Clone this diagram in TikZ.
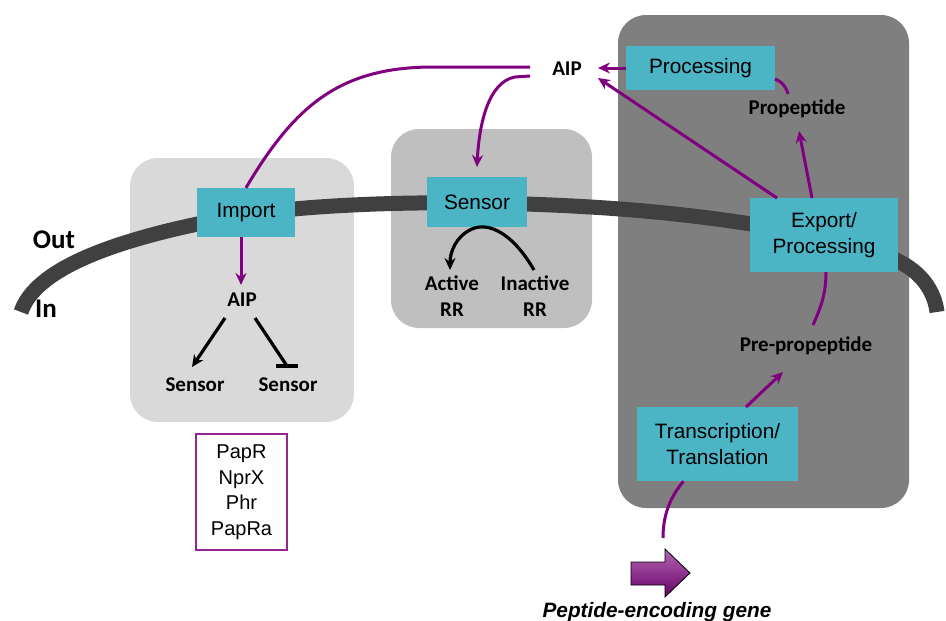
\documentclass[tikz,border=0pt]{standalone}
\usepackage{fontspec}
\setmainfont{Liberation Sans}
\newfontfamily\calfont{Carlito}
\usetikzlibrary{arrows.meta}
\definecolor{tealbox}{HTML}{4BB5C6}
\definecolor{purp}{HTML}{800080}
\definecolor{lightg}{HTML}{D9D9D9}
\definecolor{midg}{HTML}{BFBFBF}
\definecolor{darkg}{HTML}{7F7F7F}
\definecolor{memb}{HTML}{404040}
\tikzset{
  proc/.style={fill=tealbox, text=black, font=\fontsize{20.8}{26}\selectfont, align=center, inner sep=0pt},
  lbl/.style={font=\calfont\bfseries\fontsize{21}{26}\selectfont, align=center, inner sep=1pt},
  pline/.style={draw=purp, line width=3pt},
  parr/.style={pline, -{Stealth[length=12pt,width=11pt]}},
  bline/.style={draw=black, line width=3.2pt},
  barr/.style={bline, -{Stealth[length=12pt,width=11pt]}},
  panel/.style={rounded corners=28pt},
}
\begin{document}
\begin{tikzpicture}[x=1pt,y=-1pt]
\useasboundingbox (0,0) rectangle (946,621);
% panels
\fill[lightg, panel] (130,158) rectangle (354,422);
\fill[midg, panel] (391,129) rectangle (592,328);
\fill[darkg, panel] (618,15) rectangle (909,508);
% membrane
\draw[memb, line width=15pt] (21,312) .. controls (35,270) and (110,238) .. (250,214)
  .. controls (350,200) and (500,200) .. (620,209)
  .. controls (740,218) and (860,240) .. (900,262)
  .. controls (925,275) and (935,295) .. (937,312);
% process nodes
\node[proc, minimum width=98pt, minimum height=49pt] (import) at (246,212.5) {Import};
\node[proc, minimum width=100pt, minimum height=50pt] (sensor) at (477,202) {Sensor};
\node[proc, minimum width=149pt, minimum height=44pt] (processing) at (700.5,68) {Processing};
\node[proc, minimum width=148pt, minimum height=74pt] (export) at (824,235) {Export/\\Processing};
\node[proc, minimum width=161pt, minimum height=74pt] (transc) at (717.5,444) {Transcription/\\Translation};
% labels
\node[lbl] (aipT) at (567,69) {AIP};
\node[lbl] (prop) at (797,109) {Propeptide};
\node[lbl] (preprop) at (806,346) {Pre-propeptide};
\node[lbl] (aipI) at (242,300) {AIP};
\node[lbl] (sensL) at (195,385) {Sensor};
\node[lbl] (sensR) at (288,385) {Sensor};
\node[lbl] (active) at (452,296) {Active\\RR};
\node[lbl] (inactive) at (535,296) {Inactive\\RR};
\node[lbl, font=\calfont\bfseries\fontsize{27}{30}\selectfont] (out) at (54,240) {Out};
\node[lbl, font=\calfont\bfseries\fontsize{27}{30}\selectfont] (in) at (46,309) {In};
% PapR box
\node[draw=purp!85, line width=2pt, minimum width=91pt, minimum height=116pt, inner sep=0pt,
      font=\fontsize{20}{25.5}\selectfont, align=center] (papr) at (241.5,492) {PapR\\NprX\\Phr\\PapRa};
% gene arrow
\shade[top color=purp!60!white, bottom color=purp!80!black, draw=black, line width=0.8pt]
  (631,562) -- (665,562) -- (665,549) -- (690,573) -- (665,597) -- (665,585) -- (631,585) -- cycle;
\node[font=\bfseries\itshape\fontsize{20.8}{24}\selectfont, anchor=base, inner sep=0pt] (genelbl) at (657,617) {Peptide-encoding gene};
% named end points of connectors
\coordinate (gene) at (663,538);
\coordinate (a1) at (530,67);
\coordinate (a2) at (530,76);
\coordinate (aipIn) at (598,68);
\coordinate (aipIn2) at (598,78);
\coordinate (sensTop) at (477,167);
\coordinate (procOut) at (775,79);
\coordinate (propTop) at (788,94);
\coordinate (propBot) at (799,131);
\coordinate (exTop1) at (777,198);
\coordinate (exTop2) at (812,198);
\coordinate (preTop) at (813,325);
\coordinate (preBot) at (783,372);
\coordinate (trTop) at (746,407);
\coordinate (aipItop) at (241,285);
\coordinate (aipIl) at (225,318);
\coordinate (aipIr) at (255,318);
\coordinate (sensLtop) at (192,367);
\coordinate (sensRtop) at (287,366);
\coordinate (inactTop) at (534,270);
\coordinate (actTop) at (450,270);
% purple connectors
\draw[pline] (a1) -- (430,67) .. controls (340,68) and (295,105) .. (import.north);
\draw[parr] (a2) -- (515,77) .. controls (488,82) and (479,125) .. (sensTop);
\draw[parr] (processing.west) -- (aipIn);
\draw[parr] (exTop1) -- (aipIn2);
\draw[pline] (procOut) .. controls (781,81) and (786,86) .. (propTop);
\draw[parr] (exTop2) -- (propBot);
\draw[pline] (preTop) .. controls (822,305) and (826,292) .. ([xshift=2pt]export.south);
\draw[parr] (trTop) -- (preBot);
\draw[pline] (gene) .. controls (663,512) and (672,495) .. ([xshift=-34pt]transc.south);
\draw[parr] ([xshift=-5pt]import.south) -- (aipItop);
% black connectors
\draw[barr] (aipIl) -- (sensLtop);
\draw[bline] (aipIr) -- (sensRtop);
\draw[bline] ([xshift=-11pt]sensRtop) -- ([xshift=11pt]sensRtop);
\draw[barr] (inactTop) .. controls (512,232) and (488,222) .. (472,229) .. controls (456,236) and (450,252) .. (actTop);
\end{tikzpicture}
\end{document}
